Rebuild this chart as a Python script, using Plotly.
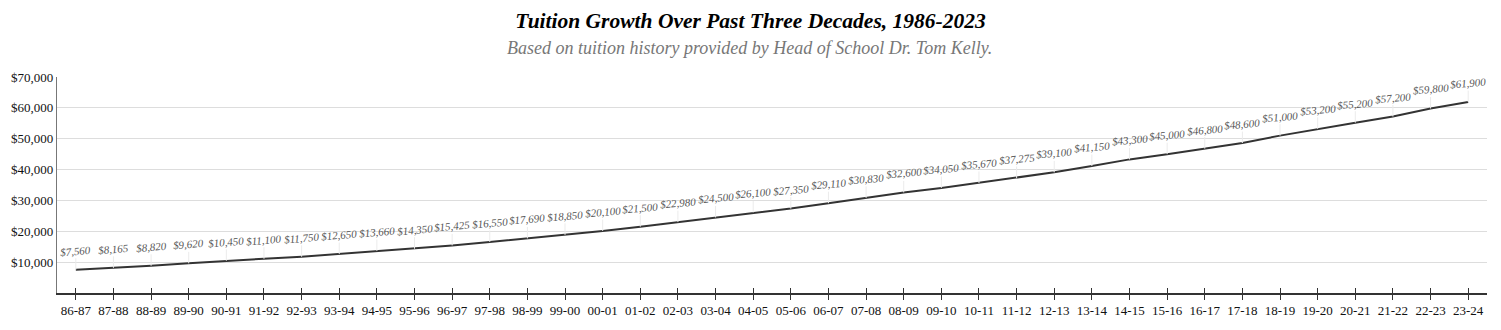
import plotly.graph_objects as go

years = ["86-87", "87-88", "88-89", "89-90", "90-91", "91-92", "92-93", "93-94", "94-95",
         "95-96", "96-97", "97-98", "98-99", "99-00", "00-01", "01-02", "02-03", "03-04",
         "04-05", "05-06", "06-07", "07-08", "08-09", "09-10", "10-11", "11-12", "12-13",
         "13-14", "14-15", "15-16", "16-17", "17-18", "18-19", "19-20", "20-21", "21-22",
         "22-23", "23-24"]
tuition = [7560, 8165, 8820, 9620, 10450, 11100, 11750, 12650, 13660, 14350, 15425, 16550,
           17690, 18850, 20100, 21500, 22980, 24500, 26100, 27350, 29110, 30830, 32600, 34050,
           35670, 37275, 39100, 41150, 43300, 45000, 46800, 48600, 51000, 53200, 55200, 57200,
           59800, 61900]
y_ticks = [10000, 20000, 30000, 40000, 50000, 60000, 70000]
y_tick_text = ["$10,000", "$20,000", "$30,000", "$40,000", "$50,000", "$60,000", "$70,000"]

title = "Tuition Growth Over Past Three Decades, 1986-2023"
subtitle = "Based on tuition history provided by Head of School Dr. Tom Kelly."

SERIF = "Liberation Serif"

fig = go.Figure()
fig.add_trace(go.Scatter(
    x=years, y=tuition, mode="lines",
    line=dict(color="#333333", width=2),
    hoverinfo="skip", showlegend=False,
))
# invisible trace for overlay axis (inner half of crossing ticks)
fig.add_trace(go.Scatter(x=years, y=tuition, xaxis="x2", mode="lines",
                         line=dict(width=0), opacity=0, hoverinfo="skip", showlegend=False))

for yr, v in zip(years, tuition):
    fig.add_annotation(
        x=yr, y=v, xref="x", yref="y",
        text=f"<i>${v:,}</i>", showarrow=True, arrowhead=0, arrowwidth=1,
        arrowcolor="#ebebeb", ax=0, ay=-19, textangle=-5,
        font=dict(family=SERIF, size=11, color="#555555"),
    )

fig.add_annotation(
    text="<i>" + subtitle + "</i>", xref="paper", yref="paper", x=0.4846, y=1.134,
    xanchor="center", yanchor="middle", showarrow=False,
    font=dict(family=SERIF, size=18, color="#777777"),
)

fig.update_layout(
    width=1501, height=330,
    margin=dict(l=57, r=14, t=77, b=37),
    paper_bgcolor="white", plot_bgcolor="white",
    title=dict(text="<b><i>" + title + "</i></b>", x=0.5, xref="container",
               xanchor="center", y=1 - 20 / 330, yref="container", yanchor="middle",
               font=dict(family=SERIF, size=21.5, color="#000000")),
    xaxis=dict(
        type="category", range=[-0.5, len(years) - 0.5],
        showgrid=False, showline=True, linecolor="#333333", linewidth=1.5,
        ticks="outside", ticklen=5, tickcolor="#333333", tickwidth=1,
        tickfont=dict(family=SERIF, size=13, color="#111111"),
        fixedrange=True, zeroline=False,
    ),
    xaxis2=dict(
        type="category", overlaying="x", anchor="y", matches="x", side="bottom",
        showgrid=False, showline=False, ticks="inside", ticklen=5,
        tickcolor="#333333", tickwidth=1, showticklabels=False, zeroline=False,
    ),
    yaxis=dict(
        range=[0, 70000], tickvals=y_ticks, ticktext=y_tick_text,
        showgrid=True, gridcolor="#dddddd", gridwidth=1,
        showline=True, linecolor="#777777", linewidth=1.2,
        ticks="", zeroline=False,
        tickfont=dict(family=SERIF, size=13, color="#111111"),
        fixedrange=True,
    ),
)

fig.write_html("out.html")
